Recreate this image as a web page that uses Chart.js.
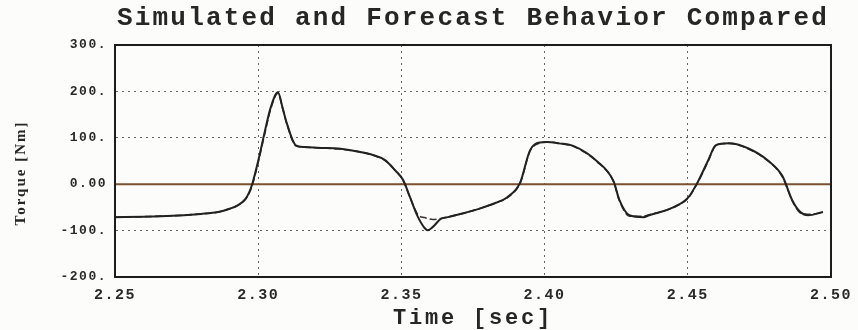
<!DOCTYPE html>
<html>
<head>
<meta charset="utf-8">
<script src="https://cdn.jsdelivr.net/npm/chart.js@4.4.1/dist/chart.umd.min.js"></script>
<style>
  html, body { margin: 0; padding: 0; background: #fcfcfa; }
  #wrap { width: 858px; height: 330px; }
</style>
</head>
<body>
<div id="wrap"><canvas id="torque" width="858" height="330"></canvas></div>
<script>
const chartTitle = "Simulated and Forecast Behavior Compared";
const xTitle = "Time [sec]";
const yTitle = "Torque [Nm]";

const xTicks = [2.25, 2.30, 2.35, 2.40, 2.45, 2.50];
const yTicks = [-200, -100, 0, 100, 200, 300];

const timeSec = [
  2.250, 2.260, 2.270, 2.280, 2.286, 2.290, 2.293, 2.2955, 2.2968, 2.2979,
  2.3003, 2.3024, 2.3044, 2.3069, 2.3085, 2.3100, 2.3131, 2.316, 2.322, 2.328,
  2.336, 2.340, 2.3443, 2.3478, 2.3506, 2.353, 2.3558, 2.3582, 2.3592, 2.3610,
  2.3637, 2.3662, 2.372, 2.3776, 2.383, 2.387, 2.3915, 2.3949, 2.3984, 2.4008,
  2.405, 2.4102, 2.4182, 2.4241, 2.4261, 2.4296, 2.4345, 2.4365, 2.4449, 2.4501,
  2.4535, 2.4570, 2.4598, 2.4643, 2.4712, 2.4782, 2.4830, 2.4865, 2.4893, 2.4920,
  2.4972
];
const simulated = [
  -71, -70, -68, -64, -60, -53, -45, -32, -18, 0,
  58, 116, 166, 198, 165, 131, 84, 80, 78, 77,
  69, 63, 52, 30, 9, -28, -71, -95, -99, -92,
  -75, -71, -62, -52, -40, -28, 4, 73, 90, 91,
  88, 82, 50, 6, -34, -67, -71, -67, -50, -29,
  5, 50, 84, 88, 77, 50, 18, -35, -60, -67,
  -60
];
const forecast = [
  -71, -70, -68, -64, -60, -53, -45, -33, -20, -3,
  55, 112, 163, 196, 164, 130, 83, 80, 78, 76,
  69, 63, 51, 30, 8, -28, -66, -72, -74, -76,
  -74, -71, -62, -52, -40, -29, 3, 71, 89, 91,
  88, 81, 49, 5, -35, -69, -69, -66, -50, -30,
  4, 48, 83, 88, 76, 49, 16, -36, -62, -65,
  -61
];
const zeroTime = [2.25, 2.50];
const zeroValues = [0, 0];

function toPoints(xs, ys) {
  return xs.map((x, i) => ({ x: x, y: ys[i] }));
}

const textPlugin = {
  id: "textPlugin",
  beforeDraw(chart) {
    chart.ctx.letterSpacing = "1.5px";
  },
  afterDraw(chart) {
    const { ctx, chartArea } = chart;
    ctx.save();
    ctx.strokeStyle = "#1c1c1c";
    ctx.lineWidth = 2;
    ctx.strokeRect(chartArea.left, chartArea.top, chartArea.right - chartArea.left, chartArea.bottom - chartArea.top);

    const cx = (chartArea.left + chartArea.right) / 2;
    ctx.fillStyle = "#262626";
    ctx.textAlign = "center";
    ctx.textBaseline = "middle";

    ctx.letterSpacing = "2.2px";
    ctx.font = "bold 26px 'Liberation Mono'";
    ctx.fillText(chartTitle, cx, 18);

    ctx.letterSpacing = "2.8px";
    ctx.font = "bold 22px 'Liberation Mono'";
    ctx.fillText(xTitle, cx, 318);

    ctx.translate(21, 173);
    ctx.rotate(-Math.PI / 2);
    ctx.letterSpacing = "2px";
    ctx.font = "bold 15px 'Liberation Serif'";
    ctx.fillText(yTitle, 0, 0);
    ctx.restore();
  }
};

function drawChart() {
  const ctx = document.getElementById("torque").getContext("2d");
  new Chart(ctx, {
    type: "line",
    data: {
      datasets: [
        {
          label: "Simulated",
          data: toPoints(timeSec, simulated),
          borderColor: "#222222",
          borderWidth: 2,
          pointRadius: 0,
          cubicInterpolationMode: "monotone",
          order: 1,
        },
        {
          label: "Forecast",
          data: toPoints(timeSec, forecast),
          borderColor: "#3a3430",
          borderWidth: 1.6,
          borderDash: [7, 3],
          pointRadius: 0,
          cubicInterpolationMode: "monotone",
          order: 2,
        },
        {
          label: "Zero",
          data: toPoints(zeroTime, zeroValues),
          borderColor: "#7d5030",
          borderWidth: 2,
          pointRadius: 0,
          order: 3,
        },
      ],
    },
    options: {
      responsive: false,
      animation: false,
      events: [],
      layout: { padding: { top: 45, left: 8, right: 22, bottom: 0 } },
      plugins: {
        legend: { display: false },
        title: { display: false },
        tooltip: { enabled: false },
      },
      scales: {
        x: {
          type: "linear",
          min: 2.25,
          max: 2.50,
          afterBuildTicks: (scale) => {
            scale.ticks = xTicks.map((v) => ({ value: v }));
          },
          afterFit: (scale) => {
            scale.height = 53;
          },
          grid: { color: "#666666", lineWidth: 1, drawTicks: false },
          border: { display: true, color: "#1c1c1c", width: 2, dash: [2, 4] },
          ticks: {
            autoSkip: false,
            maxRotation: 0,
            padding: 9,
            color: "#2a2a2a",
            font: { family: "'Liberation Mono'", size: 15, weight: "bold" },
            callback: (v) => Number(v).toFixed(2),
          },
        },
        y: {
          min: -200,
          max: 300,
          afterBuildTicks: (scale) => {
            scale.ticks = yTicks.map((v) => ({ value: v }));
          },
          afterFit: (scale) => {
            scale.width = 107;
          },
          grid: { color: "#666666", lineWidth: 1, drawTicks: false },
          border: { display: true, color: "#1c1c1c", width: 2, dash: [2, 4] },
          ticks: {
            autoSkip: false,
            padding: 8,
            color: "#2a2a2a",
            font: { family: "'Liberation Mono'", size: 13, weight: "bold" },
            callback: (v) => (v === 0 ? "0.00" : v + "."),
          },
        },
      },
    },
    plugins: [textPlugin],
  });
}

drawChart();
</script>
</body>
</html>
